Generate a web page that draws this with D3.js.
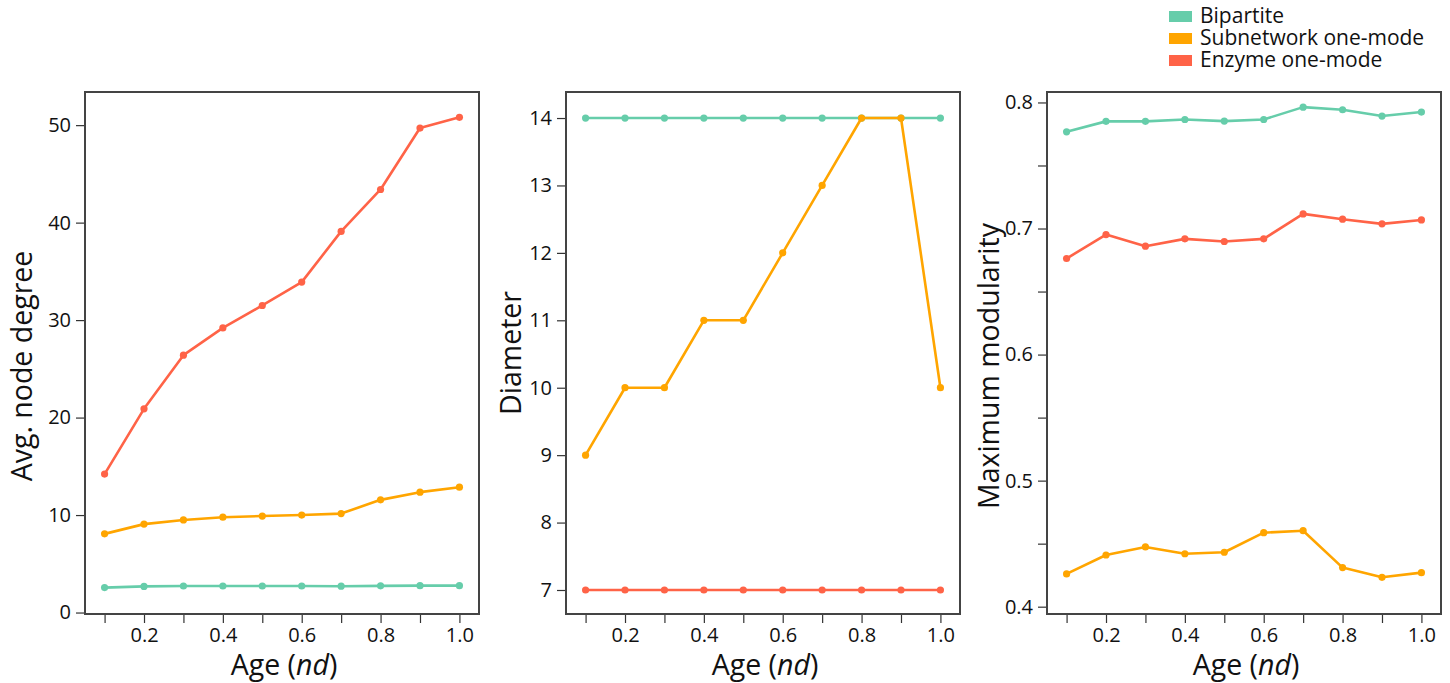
<!DOCTYPE html>
<html>
<head>
<meta charset="utf-8">
<script src="https://cdn.jsdelivr.net/npm/d3@7"></script>
<style>
  body { margin: 0; background: #fff; }
  svg text { font-family: "Open Sans", "Noto Sans", sans-serif; fill: #111; }
</style>
</head>
<body>
<svg id="chart" width="1450" height="683"></svg>
<script>
const ages = [0.1, 0.2, 0.3, 0.4, 0.5, 0.6, 0.7, 0.8, 0.9, 1.0];
const xTickLabels = ["0.2", "0.4", "0.6", "0.8", "1.0"];

const seriesNames = ["Bipartite", "Subnetwork one-mode", "Enzyme one-mode"];
const seriesColors = ["#66cdaa", "#ffa500", "#ff6347"];

// Avg. node degree
const degreeBipartite = [2.56, 2.68, 2.72, 2.72, 2.72, 2.72, 2.70, 2.74, 2.76, 2.76];
const degreeSubnetwork = [8.07, 9.07, 9.5, 9.78, 9.9, 10.0, 10.15, 11.56, 12.35, 12.86];
const degreeEnzyme = [14.2, 20.9, 26.4, 29.2, 31.5, 33.9, 39.1, 43.4, 49.7, 50.8];

// Diameter
const diamBipartite = [14, 14, 14, 14, 14, 14, 14, 14, 14, 14];
const diamSubnetwork = [9, 10, 10, 11, 11, 12, 13, 14, 14, 10];
const diamEnzyme = [7, 7, 7, 7, 7, 7, 7, 7, 7, 7];

// Maximum modularity
const modBipartite = [0.7767, 0.785, 0.785, 0.7865, 0.7852, 0.7865, 0.7963, 0.7942, 0.7892, 0.7924];
const modSubnetwork = [0.426, 0.441, 0.4474, 0.442, 0.4432, 0.4587, 0.4603, 0.431, 0.4233, 0.427];
const modEnzyme = [0.6762, 0.6952, 0.686, 0.6918, 0.6897, 0.6918, 0.7116, 0.7074, 0.7037, 0.7068];

const svg = d3.select('#chart');
const plotTop = 92, plotBottom = 614;

const panels = [
    { left: 85, right: 479, domain: [-0.15, 53.4], ticks: [0, 10, 20, 30, 40, 50], fmt: d3.format('d'),
      label: "Avg. node degree", labelX: 23, labelY: 366, series: [degreeBipartite, degreeSubnetwork, degreeEnzyme] },
    { left: 566, right: 960, domain: [6.644, 14.386], ticks: [7, 8, 9, 10, 11, 12, 13, 14], fmt: d3.format('d'),
      label: "Diameter", labelX: 512, labelY: 353, series: [diamBipartite, diamSubnetwork, diamEnzyme] },
    { left: 1047, right: 1441, domain: [0.3942, 0.8083], ticks: [0.4, 0.45, 0.5, 0.55, 0.6, 0.65, 0.7, 0.75, 0.8],
      fmt: d => (Math.round(d * 100) % 10 === 0 ? d3.format('.1f')(d) : ''),
      label: "Maximum modularity", labelX: 990, labelY: 366, series: [modBipartite, modSubnetwork, modEnzyme] },
];

panels.forEach(p => {
    const pad = (p.right - p.left) * 0.0497;
    const x = d3.scaleLinear().domain([0.1, 1.0]).range([p.left + pad, p.right - pad]);
    const y = d3.scaleLinear().domain(p.domain).range([plotBottom, plotTop]);
    const g = svg.append('g');

    // frame
    g.append('rect')
        .attr('x', p.left).attr('y', plotTop)
        .attr('width', p.right - p.left).attr('height', plotBottom - plotTop)
        .attr('fill', 'none').attr('stroke', '#444').attr('stroke-width', 2);

    // y axis
    const yAxis = g.append('g')
        .attr('transform', `translate(${p.left - 1},0)`)
        .call(d3.axisLeft(y).tickValues(p.ticks).tickFormat(p.fmt).tickSize(8).tickPadding(5));
    yAxis.select('.domain').remove();
    yAxis.selectAll('line').attr('stroke', '#333').attr('stroke-width', 1.2);
    yAxis.selectAll('text').attr('font-size', 20).attr('fill', '#111');

    // x axis
    const xAxis = g.append('g')
        .attr('transform', `translate(0,${plotBottom + 1})`)
        .call(d3.axisBottom(x).tickValues(ages)
            .tickFormat(d => { const s = d3.format('.1f')(d); return xTickLabels.includes(s) ? s : ''; })
            .tickSize(8).tickPadding(5));
    xAxis.select('.domain').remove();
    xAxis.selectAll('line').attr('stroke', '#333').attr('stroke-width', 1.2);
    xAxis.selectAll('text').attr('font-size', 20).attr('fill', '#111');

    // x label
    const xl = g.append('text')
        .attr('x', (p.left + p.right) / 2 + 2).attr('y', 675)
        .attr('text-anchor', 'middle').attr('font-size', 28.5);
    xl.append('tspan').text('Age (');
    xl.append('tspan').attr('font-style', 'italic').text('nd');
    xl.append('tspan').text(')');

    // y label
    g.append('text')
        .attr('transform', `translate(${p.labelX + 9},${p.labelY}) rotate(-90)`)
        .attr('text-anchor', 'middle').attr('font-size', 28.5)
        .text(p.label);

    const line = d3.line().x((d, i) => x(ages[i])).y(d => y(d));
    p.series.forEach((vals, si) => {
        g.append('path')
            .datum(vals)
            .attr('d', line)
            .attr('fill', 'none')
            .attr('stroke', seriesColors[si])
            .attr('stroke-width', 2.6)
            .attr('stroke-linejoin', 'round');
        g.selectAll(null)
            .data(vals)
            .join('circle')
            .attr('cx', (d, i) => x(ages[i]))
            .attr('cy', d => y(d))
            .attr('r', 3.6)
            .attr('fill', seriesColors[si]);
    });
});

// legend
const legend = svg.append('g').attr('transform', 'translate(1169,16)');
seriesNames.forEach((name, i) => {
    const row = legend.append('g').attr('transform', `translate(0,${i * 22})`);
    row.append('rect').attr('x', 0).attr('y', -5).attr('width', 23).attr('height', 11)
        .attr('fill', seriesColors[i]);
    row.append('text').attr('x', 31).attr('y', 0).attr('dy', '0.35em')
        .attr('font-size', 21).text(name);
});
</script>
</body>
</html>
